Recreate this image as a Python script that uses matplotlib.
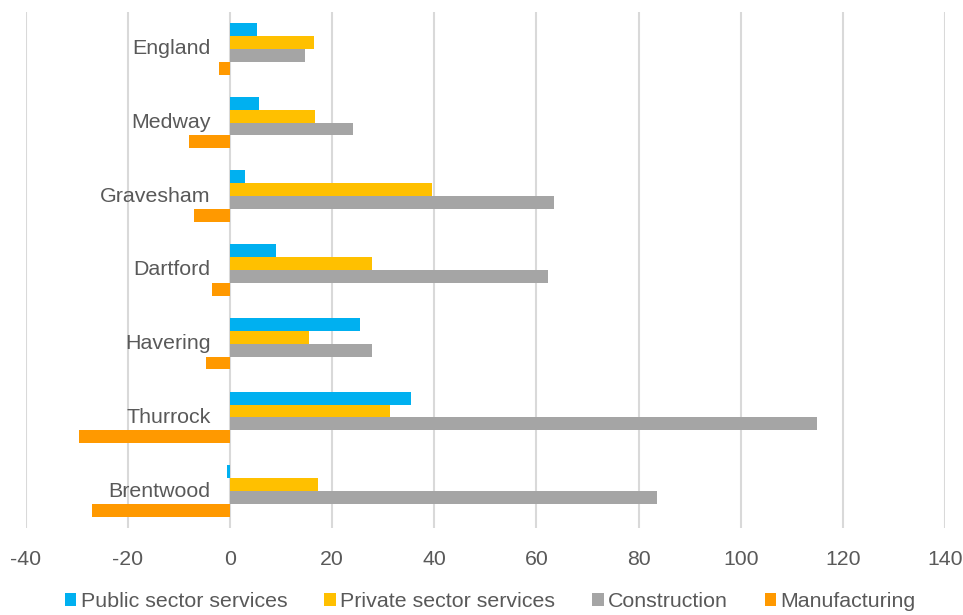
import matplotlib
matplotlib.use("Agg")
import matplotlib.pyplot as plt
import numpy as np

# ====== data ======
areas = ["England", "Medway", "Gravesham", "Dartford", "Havering", "Thurrock", "Brentwood"]
public_sector = [5.3, 5.7, 2.9, 9.0, 25.5, 35.4, -0.5]
private_sector = [16.4, 16.6, 39.5, 27.8, 15.5, 31.4, 17.2]
construction = [14.6, 24.0, 63.4, 62.3, 27.8, 114.9, 83.7]
manufacturing = [-2.1, -8.1, -7.0, -3.5, -4.7, -29.5, -27.0]

series_names = ["Public sector services", "Private sector services", "Construction", "Manufacturing"]
series_colors = ["#00B0F0", "#FFC000", "#A5A5A5", "#FF9900"]
xticks = [-40, -20, 0, 20, 40, 60, 80, 100, 120, 140]

TXT = "#595959"
plt.rcParams['font.family'] = ['Liberation Sans', 'DejaVu Sans']
plt.rcParams['axes.unicode_minus'] = False

fig = plt.figure(figsize=(9.63, 6.15), dpi=100)
ax = fig.add_axes([0.0267, 0.1415, 0.9546, 0.839])

y = np.arange(len(areas))
h = 0.175
all_series = [public_sector, private_sector, construction, manufacturing]
for i, (vals, name, col) in enumerate(zip(all_series, series_names, series_colors)):
    ax.barh(y + (i - 1.5) * h, vals, height=h, color=col, label=name, zorder=3)

ax.set_xlim(-40, 140)
ax.set_ylim(len(areas) - 0.5, -0.5)
ax.set_xticks(xticks)
ax.set_yticks([])
ax.grid(axis="x", color="#D9D9D9", linewidth=1.5, zorder=0)
for s in ax.spines.values():
    s.set_visible(False)
ax.tick_params(axis="x", length=0, pad=16, labelsize=15.3, labelcolor=TXT)

# category labels sit just left of zero
for yi, name in zip(y, areas):
    ax.annotate(name, xy=(0, yi), xytext=(-14, 0), textcoords="offset points",
                ha="right", va="center", fontsize=15.4, color=TXT)

leg = fig.legend(loc="center", bbox_to_anchor=(0.509, 0.022), ncol=4, frameon=False,
                 fontsize=15.4, handlelength=0.55, handleheight=0.55, handletextpad=0.2,
                 columnspacing=1.72, borderaxespad=0)
for t in leg.get_texts():
    t.set_color(TXT)

fig.savefig("out.png", dpi=100)
